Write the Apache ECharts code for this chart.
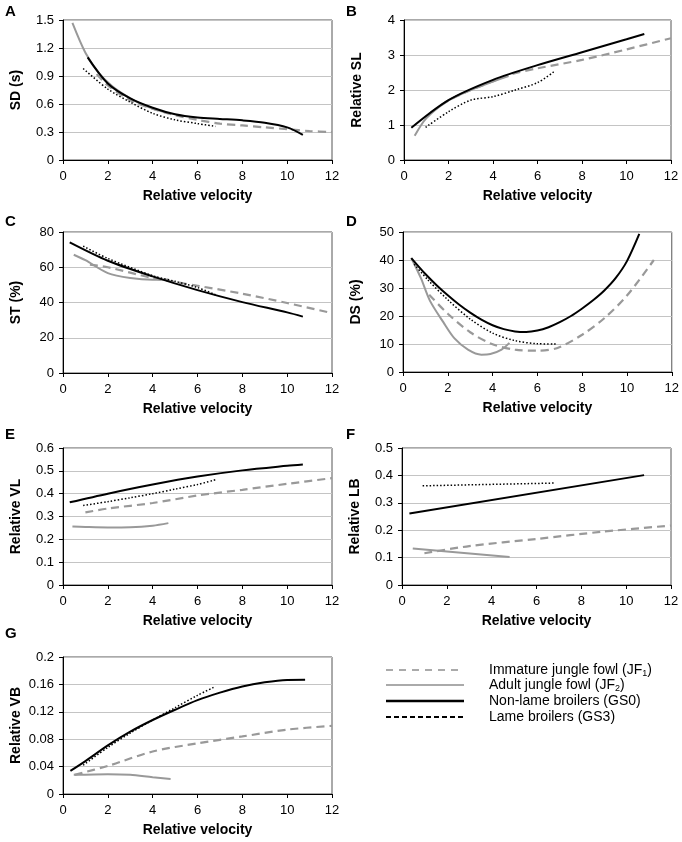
<!DOCTYPE html>
<html><head><meta charset="utf-8">
<script src="https://cdn.jsdelivr.net/npm/echarts@6/dist/echarts.min.js"></script>
<style>html,body{margin:0;padding:0;background:#fff}#c{width:682px;height:842px}</style>
</head><body><div id="c"></div>
<script>
// Panel A: SD (s)
const sdJF1 = [[1.5,0.92],[2,0.8],[3,0.64],[4,0.55],[5,0.48],[6,0.43],[7,0.39],[8,0.37],[9,0.35],[10,0.33],[11,0.31],[12,0.30]];
const sdJF2 = [[0.42,1.47],[1.0,1.15],[1.6,0.93],[2.2,0.79],[2.8,0.69],[3.4,0.61],[4,0.55],[4.7,0.5]];
const sdGS0 = [[1.1,1.1],[2,0.82],[3,0.66],[4,0.56],[5,0.49],[6,0.455],[7,0.44],[8,0.425],[9,0.40],[10,0.35],[10.7,0.27]];
const sdGS3 = [[0.9,0.98],[2,0.76],[3,0.62],[4,0.5],[5,0.43],[6,0.39],[6.8,0.36]];
// Panel B: Relative SL
const slJF1 = [[1.2,1.35],[2,1.7],[3,2.0],[4,2.25],[4.7,2.43],[6,2.62],[8,2.86],[10,3.16],[12,3.48]];
const slJF2 = [[0.48,0.69],[1,1.19],[2,1.7],[3,2.0],[4,2.24],[4.7,2.4]];
const slGS0 = [[0.33,0.92],[2,1.71],[4,2.29],[6,2.71],[8,3.08],[10,3.45],[10.8,3.6]];
const slGS3 = [[0.97,0.93],[2,1.38],[3,1.71],[4,1.81],[5,2.0],[6,2.21],[6.8,2.55]];
// Panel C: ST (%)
const stJF1 = [[1.2,61.5],[2,60],[4,53.9],[6,49.5],[8,45],[10,39.7],[12,34]];
const stJF2 = [[0.48,67.1],[1,64],[2,56.7],[3,53.9],[4,52.9],[4.7,53]];
const stGS0 = [[0.3,74.1],[2,63.7],[4,54.8],[6,47],[8,40.2],[10,34.4],[10.7,32]];
const stGS3 = [[0.9,72],[2,65],[4,55.2],[5,52],[6,48.5],[6.8,44.4]];
// Panel D: DS (%)
const dsJF1 = [[1.17,27.6],[2,20.8],[3,14.2],[4,9.9],[5,8.0],[6,7.6],[6.9,8.6],[8,13.3],[9,19.3],[10,27.3],[11.2,40]];
const dsJF2 = [[0.37,40.7],[0.8,33.5],[1.2,25.5],[1.8,17.8],[2.3,12],[2.9,8],[3.5,6.2],[3.9,6.4],[4.4,8],[4.75,10.4]];
const dsGS0 = [[0.37,40.7],[1,35],[1.5,31],[2,27.4],[2.5,24.1],[3,21.2],[3.5,18.7],[4,16.7],[4.5,15.3],[5,14.5],[5.5,14.3],[6,14.8],[6.5,16],[7,17.8],[7.5,20],[8,22.7],[8.5,25.7],[9,29.2],[9.5,33.6],[10,39.6],[10.55,49.3]];
const dsGS3 = [[0.5,38.5],[1.1,33],[2,25.8],[3,18.9],[4,13.9],[5,11.2],[6,10.1],[6.85,10]];
// Panel E: Relative VL
const vlJF1 = [[1,0.318],[2,0.335],[4,0.359],[6,0.392],[8,0.417],[10,0.443],[12,0.468]];
const vlJF2 = [[0.42,0.256],[1,0.254],[2,0.252],[3,0.253],[4,0.26],[4.7,0.271]];
const vlGS0 = [[0.3,0.362],[2,0.40],[4,0.44],[6,0.475],[8,0.502],[10,0.522],[10.7,0.528]];
const vlGS3 = [[0.9,0.348],[2,0.365],[3,0.382],[4,0.40],[5,0.42],[6,0.44],[6.8,0.461]];
// Panel F: Relative LB
const lbJF1 = [[1,0.116],[3,0.142],[6,0.168],[9,0.195],[12,0.217]];
const lbJF2 = [[0.48,0.133],[4.8,0.102]];
const lbGS0 = [[0.33,0.261],[10.8,0.401]];
const lbGS3 = [[0.92,0.362],[6.8,0.372]];
// Panel G: Relative VB
const vbJF1 = [[0.52,0.028],[2,0.041],[4,0.062],[6,0.074],[8,0.084],[10,0.094],[12,0.0995]];
const vbJF2 = [[0.48,0.028],[2,0.029],[3,0.028],[4,0.0244],[4.8,0.022]];
const vbGS0 = [[0.33,0.0337],[1,0.048],[2,0.071],[3,0.091],[4,0.108],[5,0.123],[6,0.137],[7,0.148],[8,0.157],[9,0.163],[10,0.1665],[10.8,0.1668]];
const vbGS3 = [[0.9,0.042],[2,0.068],[3,0.089],[4,0.108],[5,0.126],[6,0.144],[6.8,0.157]];

const xTicks = {min:0, max:12, interval:2};
const panelLabels = ['A','B','C','D','E','F','G'];
const yNames = ['SD (s)','Relative SL','ST (%)','DS (%)','Relative VL','Relative LB','Relative VB'];
const yRanges = [[0,1.5,0.3],[0,4,1],[0,80,20],[0,50,10],[0,0.6,0.1],[0,0.5,0.1],[0,0.2,0.04]];
const panelData = [
  [sdJF1,sdJF2,sdGS0,sdGS3],[slJF1,slJF2,slGS0,slGS3],[stJF1,stJF2,stGS0,stGS3],
  [dsJF1,dsJF2,dsGS0,dsGS3],[vlJF1,vlJF2,vlGS0,vlGS3],[lbJF1,lbJF2,lbGS0,lbGS3],[vbJF1,vbJF2,vbGS0,vbGS3]
];
const seriesNames = ['Immature jungle fowl (JF1)','Adult jungle fowl (JF2)','Non-lame broilers (GS0)','Lame broilers (GS3)'];

const grids = [
  {left:63, top:20, width:269, height:140},
  {left:404, top:20, width:267, height:140},
  {left:63, top:232, width:269, height:141},
  {left:403, top:232, width:269, height:140},
  {left:63, top:448, width:269, height:137},
  {left:402, top:448, width:269, height:137},
  {left:63, top:657, width:269, height:137}
];
const labelPos = [[5,4],[346,4],[5,214],[346,214],[5,427],[346,427],[5,626]];

const styles = [
  {color:'#999999', width:2.2, type:[8,5]},
  {color:'#999999', width:2, type:'solid'},
  {color:'#000000', width:2, type:'solid'},
  {color:'#000000', width:1.5, type:[1.5,2]}
];

const FONT = '"Liberation Sans", Arial, sans-serif';
const option = {animation:false, grid:[], xAxis:[], yAxis:[], series:[], graphic:[]};
grids.forEach((g,i)=>{
  option.grid.push(Object.assign({show:true, borderColor:'#555', borderWidth:1, backgroundColor:'#fff'}, g));
  option.xAxis.push({type:'value', gridIndex:i, min:xTicks.min, max:xTicks.max, interval:xTicks.interval,
    name:'Relative velocity', nameLocation:'middle', nameGap:29,
    nameTextStyle:{fontFamily:FONT, fontSize:14, fontWeight:'bold', color:'#000'},
    axisLine:{lineStyle:{color:'#000', width:1}}, axisTick:{show:true, length:4, lineStyle:{color:'#000'}},
    axisLabel:{fontFamily:FONT, fontSize:13, color:'#000', margin:10}, splitLine:{show:false}});
  const r = yRanges[i];
  option.yAxis.push({type:'value', gridIndex:i, min:r[0], max:r[1], interval:r[2],
    name:yNames[i], nameLocation:'middle', nameGap:40, nameRotate:90,
    nameTextStyle:{fontFamily:FONT, fontSize:14, fontWeight:'bold', color:'#000'},
    axisLine:{show:true, lineStyle:{color:'#000', width:1}}, axisTick:{show:true, length:4, lineStyle:{color:'#000'}},
    axisLabel:{fontFamily:FONT, fontSize:13, color:'#000', margin:9},
    splitLine:{show:true, lineStyle:{color:'#c4c4c4', width:1}}});
  panelData[i].forEach((d,k)=>{
    option.series.push({type:'line', name:seriesNames[k], xAxisIndex:i, yAxisIndex:i, data:d,
      smooth:d.length>2 ? 0.3 : false, showSymbol:false, symbol:'none', lineStyle:styles[k], z:2+k});
  });
  option.graphic.push({type:'text', left:labelPos[i][0], top:labelPos[i][1],
    style:{text:panelLabels[i], font:'bold 15px '+FONT, fill:'#000'}});
});

// Legend
const legendY = [670,685,701,717];
const legendStyles = [
  {stroke:'#aaaaaa', lineWidth:2, lineDash:[7,6]},
  {stroke:'#aaaaaa', lineWidth:2, lineDash:null},
  {stroke:'#000', lineWidth:2.5, lineDash:null},
  {stroke:'#000', lineWidth:2, lineDash:[5,3]}
];
const legendTexts = [
  '{a|Immature jungle fowl (JF}{s|1}{a|)}',
  '{a|Adult jungle fowl (JF}{s|2}{a|)}',
  '{a|Non-lame broilers (GS0)}',
  '{a|Lame broilers (GS3)}'
];
legendY.forEach((y,k)=>{
  option.graphic.push({type:'line', shape:{x1:386, y1:y, x2:464, y2:y}, style:legendStyles[k]});
  option.graphic.push({type:'text', x:489, y:y, style:{text:legendTexts[k], verticalAlign:'middle',
    rich:{a:{fontFamily:FONT, fontSize:14, fill:'#000', lineHeight:16}, s:{fontFamily:FONT, fontSize:9, fill:'#000', padding:[8,0,0,0], lineHeight:16}}}});
});

const chart = echarts.init(document.getElementById('c'), null, {renderer:'canvas'});
chart.setOption(option);
</script>
</body></html>
